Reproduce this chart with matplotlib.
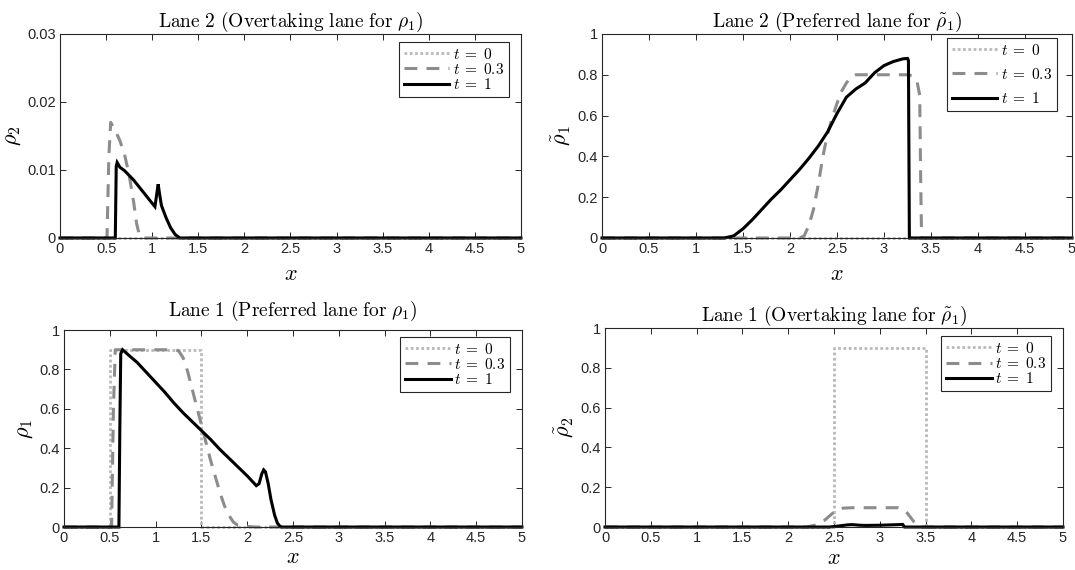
import matplotlib
matplotlib.use("Agg")
import matplotlib.pyplot as plt
import matplotlib.ticker as ticker

plt.rcParams["mathtext.fontset"] = "cm"
plt.rcParams["font.family"] = ["Liberation Sans", "DejaVu Sans"]

# ---- data ----
time_labels = [r"$t\;=\;0$", r"$t\;=\;0.3$", r"$t\;=\;1$"]
x_ticks = [0, 0.5, 1, 1.5, 2, 2.5, 3, 3.5, 4, 4.5, 5]

# lane 2, rho_2
rho2_t0_x = [0, 5]
rho2_t0_y = [0, 0]
rho2_t03_x = [0, 0.51, 0.53, 0.55, 0.6, 0.65, 0.7, 0.75, 0.8, 0.83, 0.86, 0.89, 5]
rho2_t03_y = [0, 0, 0.012, 0.017, 0.0158, 0.0143, 0.0123, 0.0093, 0.0052, 0.0022, 0.0005, 0, 0]
rho2_t1_x = [0, 0.6, 0.61, 0.62, 0.65, 0.7, 0.8, 0.9, 1.0, 1.03, 1.05, 1.065, 1.08,
             1.1, 1.15, 1.2, 1.25, 1.3, 5]
rho2_t1_y = [0, 0, 0.0105, 0.0111, 0.0104, 0.0099, 0.0085, 0.0068, 0.0051, 0.0046,
             0.0065, 0.0079, 0.0065, 0.0048, 0.003, 0.0015, 0.0005, 0, 0]

# lane 2, rho~_1
rt1_t0_x = [0, 5]
rt1_t0_y = [0, 0]
rt1_t03_x = [0, 2.1, 2.15, 2.2, 2.25, 2.3, 2.35, 2.4, 2.45, 2.5, 2.55, 2.6, 2.65, 2.7,
             3.25, 3.3, 3.35, 3.38, 3.39, 3.4, 5]
rt1_t03_y = [0, 0, 0.01, 0.06, 0.14, 0.26, 0.4, 0.51, 0.59, 0.66, 0.72, 0.76, 0.79, 0.8,
             0.8, 0.795, 0.77, 0.7, 0.3, 0, 0]
rt1_t1_x = [0, 1.3, 1.4, 1.5, 1.6, 1.7, 1.8, 1.9, 2.0, 2.1, 2.2, 2.3, 2.4, 2.5, 2.6,
            2.7, 2.8, 2.9, 3.0, 3.1, 3.2, 3.25, 3.26, 3.27, 5]
rt1_t1_y = [0, 0, 0.01, 0.045, 0.09, 0.14, 0.19, 0.235, 0.285, 0.335, 0.39, 0.45, 0.52,
            0.61, 0.69, 0.73, 0.76, 0.81, 0.845, 0.865, 0.878, 0.88, 0.87, 0, 0]

# lane 1, rho_1
rho1_t0_x = [0, 0.5, 0.5, 1.5, 1.5, 5]
rho1_t0_y = [0, 0, 0.9, 0.9, 0, 0]
rho1_t03_x = [0, 0.52, 0.54, 0.56, 1.2, 1.25, 1.3, 1.35, 1.4, 1.45, 1.5, 1.55, 1.6,
              1.65, 1.7, 1.75, 1.8, 1.85, 1.9, 2.0, 2.1, 5]
rho1_t03_y = [0, 0, 0.6, 0.9, 0.9, 0.895, 0.86, 0.79, 0.7, 0.61, 0.52, 0.43, 0.34,
              0.26, 0.18, 0.11, 0.06, 0.025, 0.008, 0.003, 0, 0]
rho1_t1_x = [0, 0.6, 0.61, 0.62, 0.64, 0.7, 0.8, 0.9, 1.0, 1.1, 1.2, 1.3, 1.4, 1.5,
             1.6, 1.7, 1.8, 1.9, 2.0, 2.1, 2.13, 2.16, 2.18, 2.2, 2.23, 2.26, 2.3,
             2.33, 2.36, 2.38, 5]
rho1_t1_y = [0, 0, 0.5, 0.88, 0.9, 0.875, 0.835, 0.785, 0.735, 0.685, 0.63, 0.58,
             0.535, 0.49, 0.445, 0.395, 0.35, 0.305, 0.26, 0.21, 0.22, 0.27, 0.29,
             0.28, 0.22, 0.14, 0.06, 0.02, 0.003, 0, 0]

# lane 1, rho~_2
rt2_t0_x = [0, 2.5, 2.5, 3.5, 3.5, 5]
rt2_t0_y = [0, 0, 0.9, 0.9, 0, 0]
rt2_t03_x = [0, 2.2, 2.3, 2.4, 2.5, 2.55, 2.6, 2.7, 3.2, 3.25, 3.3, 3.35, 3.4, 3.43, 5]
rt2_t03_y = [0, 0, 0.01, 0.035, 0.075, 0.088, 0.095, 0.097, 0.097, 0.09, 0.07, 0.04,
             0.01, 0, 0]
rt2_t1_x = [0, 2.45, 2.55, 2.65, 2.7, 2.78, 2.85, 3.0, 3.2, 3.25, 3.27, 5]
rt2_t1_y = [0, 0, 0.005, 0.011, 0.012, 0.009, 0.008, 0.009, 0.012, 0.013, 0, 0]

# ---- styles ----
line_styles = [
    dict(color="#b9b9b9", lw=2.0, linestyle=(0, (1, 0.9))),
    dict(color="#8c8c8c", lw=2.2, linestyle=(0, (4.2, 3.0))),
    dict(color="black", lw=2.2, linestyle="-"),
]

panels = [
    dict(rect=[0.0558, 0.5825, 0.4288, 0.3579],
         curves=[(rho2_t0_x, rho2_t0_y), (rho2_t03_x, rho2_t03_y), (rho2_t1_x, rho2_t1_y)],
         title=r"$\mathrm{Lane\ 2\ (Overtaking\ lane\ for\ }\rho_1\mathrm{)}$",
         ylabel=r"$\rho_2$", ylim=(0, 0.03), yticks=[0, 0.01, 0.02, 0.03],
         tpad=5, xpad=6, anchor=(0.974, 0.961), lspace=0.02),
    dict(rect=[0.5600, 0.5825, 0.4372, 0.3579],
         curves=[(rt1_t0_x, rt1_t0_y), (rt1_t03_x, rt1_t03_y), (rt1_t1_x, rt1_t1_y)],
         title=r"$\mathrm{Lane\ 2\ (Preferred\ lane\ for\ }\tilde{\rho}_1\mathrm{)}$",
         ylabel=r"$\tilde{\rho}_1$", ylim=(0, 1), yticks=[0, 0.2, 0.4, 0.6, 0.8, 1],
         tpad=5, xpad=6, anchor=(0.968, 0.98), lspace=0.6),
    dict(rect=[0.0595, 0.0754, 0.4260, 0.3456],
         curves=[(rho1_t0_x, rho1_t0_y), (rho1_t03_x, rho1_t03_y), (rho1_t1_x, rho1_t1_y)],
         title=r"$\mathrm{Lane\ 1\ (Preferred\ lane\ for\ }\rho_1\mathrm{)}$",
         ylabel=r"$\rho_1$", ylim=(0, 1), yticks=[0, 0.2, 0.4, 0.6, 0.8, 1],
         tpad=10, xpad=1, anchor=(0.974, 0.965), lspace=0.02),
    dict(rect=[0.5628, 0.0754, 0.4260, 0.3490],
         curves=[(rt2_t0_x, rt2_t0_y), (rt2_t03_x, rt2_t03_y), (rt2_t1_x, rt2_t1_y)],
         title=r"$\mathrm{Lane\ 1\ (Overtaking\ lane\ for\ }\tilde{\rho}_1\mathrm{)}$",
         ylabel=r"$\tilde{\rho}_2$", ylim=(0, 1), yticks=[0, 0.2, 0.4, 0.6, 0.8, 1],
         tpad=5, xpad=2, anchor=(0.974, 0.96), lspace=0.02),
]

fig = plt.figure(figsize=(10.75, 5.7), dpi=100)
fmt = ticker.FuncFormatter(lambda v, pos: f"{v:g}")

for p in panels:
    ax = fig.add_axes(p["rect"])
    for (xs, ys), st, lab in zip(p["curves"], line_styles, time_labels):
        ax.plot(xs, ys, label=lab, clip_on=False, solid_joinstyle="miter", **st)
    ax.set_xlim(0, 5)
    ax.set_ylim(*p["ylim"])
    ax.set_xticks(x_ticks)
    ax.set_yticks(p["yticks"])
    ax.xaxis.set_major_formatter(fmt)
    ax.yaxis.set_major_formatter(fmt)
    ax.tick_params(direction="in", length=4, width=0.7, top=True, right=True,
                   labelsize=10.5, colors="#262626", pad=3)
    for sp in ax.spines.values():
        sp.set_linewidth(0.8)
        sp.set_color("#262626")
    ax.set_title(p["title"], fontsize=14, pad=p["tpad"])
    ax.set_xlabel("$x$", fontsize=16, labelpad=p["xpad"])
    ax.set_ylabel(p["ylabel"], fontsize=16, labelpad=3)
    leg = ax.legend(loc="upper right", bbox_to_anchor=p["anchor"], borderaxespad=0,
                    fontsize=11, handlelength=3.0, handletextpad=0.25,
                    borderpad=0.3, labelspacing=p["lspace"], fancybox=False,
                    framealpha=1, edgecolor="#262626")
    leg.get_frame().set_linewidth(0.8)

fig.savefig("out.png", dpi=100)
